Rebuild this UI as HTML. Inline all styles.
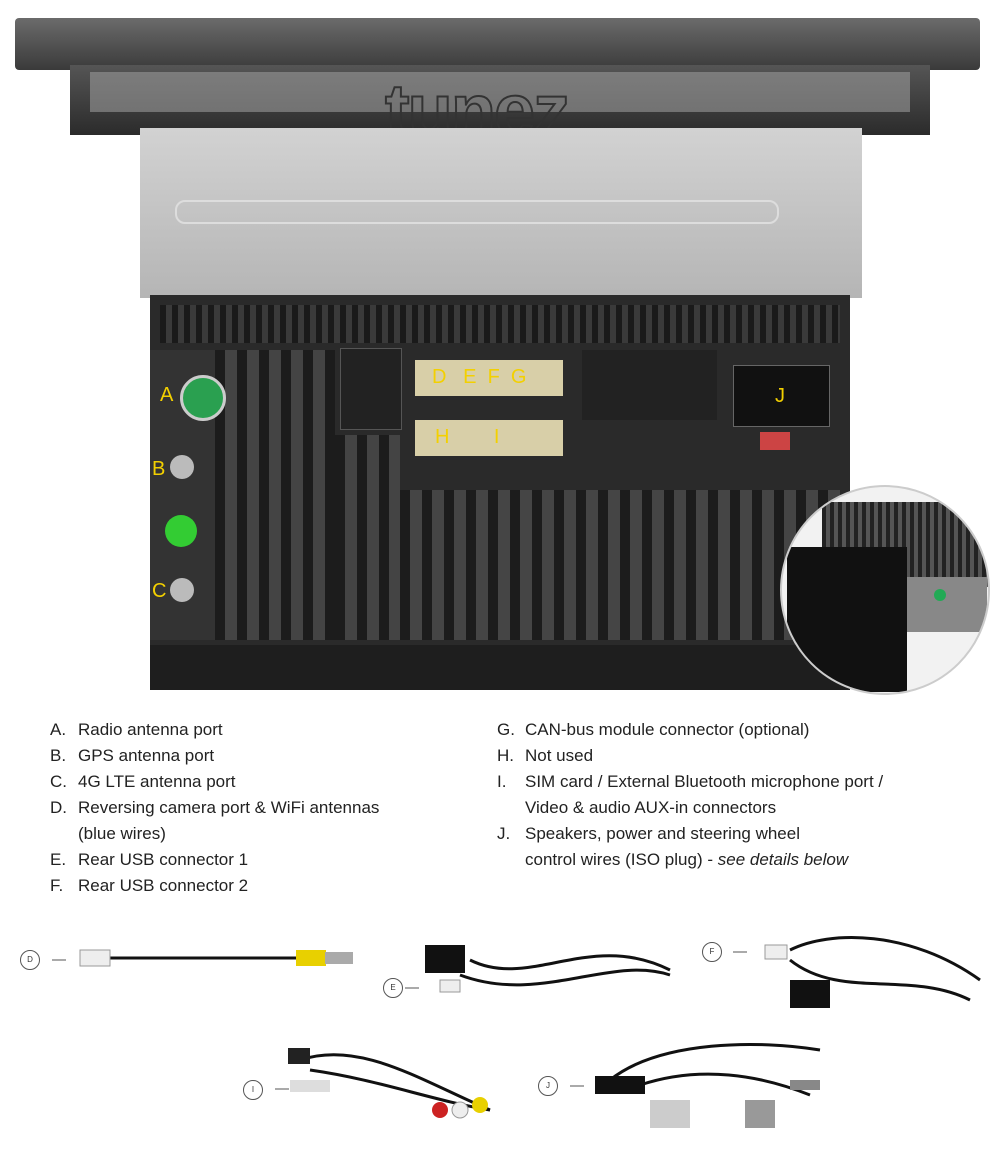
<!DOCTYPE html>
<html><head><meta charset="utf-8"><style>
body{margin:0;background:#fff;width:1000px;height:1149px;position:relative;overflow:hidden;font-family:"Liberation Sans",sans-serif}
.a{position:absolute}
.leg{font-size:17px;color:#222;line-height:26px}
.leg div{position:relative;padding-left:28px}
.leg b{font-weight:normal;position:absolute;left:0}
.lbl{position:absolute;color:#f3d000;font-size:20px}
.circ{position:absolute;width:18px;height:18px;border:1px solid #555;border-radius:50%;font-size:8px;text-align:center;line-height:18px;color:#333}
</style></head><body>
<div class="a" style="left:15px;top:18px;width:965px;height:52px;background:linear-gradient(#6b6b6b,#3a3a3a);border-radius:4px"></div>
<div class="a" style="left:70px;top:65px;width:860px;height:70px;background:linear-gradient(#555,#2b2b2b)"></div>
<div class="a" style="left:90px;top:72px;width:820px;height:40px;background:#999;opacity:.6"></div>
<div class="a" style="left:385px;top:68px;font-size:74px;font-weight:bold;color:transparent;letter-spacing:-2px;-webkit-text-stroke:2px #333">tunez</div>
<div class="a" style="left:140px;top:128px;width:722px;height:170px;background:linear-gradient(#d2d2d2,#b5b5b5)"></div>
<div class="a" style="left:175px;top:200px;width:600px;height:20px;border:2px solid #ddd;border-radius:10px"></div>
<div class="a" style="left:150px;top:295px;width:700px;height:395px;background:#2a2a2a"></div>
<div class="a" style="left:160px;top:305px;width:680px;height:38px;background:repeating-linear-gradient(90deg,#1a1a1a 0 6px,#3a3a3a 6px 12px)"></div>
<div class="a" style="left:215px;top:350px;width:120px;height:290px;background:repeating-linear-gradient(90deg,#1c1c1c 0 10px,#444 10px 22px)"></div>
<div class="a" style="left:335px;top:435px;width:65px;height:205px;background:repeating-linear-gradient(90deg,#1c1c1c 0 10px,#444 10px 22px)"></div>
<div class="a" style="left:400px;top:490px;width:440px;height:150px;background:repeating-linear-gradient(90deg,#1c1c1c 0 10px,#454545 10px 22px)"></div>
<div class="a" style="left:150px;top:645px;width:700px;height:45px;background:#1e1e1e"></div>
<div class="a" style="left:150px;top:350px;width:65px;height:290px;background:#333"></div>
<div class="a" style="left:180px;top:375px;width:40px;height:40px;border-radius:50%;background:#2aa050;border:3px solid #ccc"></div>
<div class="a" style="left:170px;top:455px;width:24px;height:24px;border-radius:50%;background:#bbb"></div>
<div class="a" style="left:165px;top:515px;width:32px;height:32px;border-radius:50%;background:#3c3"></div>
<div class="a" style="left:170px;top:578px;width:24px;height:24px;border-radius:50%;background:#bbb"></div>
<div class="lbl" style="left:160px;top:384px">A</div>
<div class="lbl" style="left:152px;top:458px">B</div>
<div class="lbl" style="left:152px;top:580px">C</div>
<div class="a" style="left:340px;top:348px;width:60px;height:80px;background:#222;border:1px solid #555"></div>
<div class="a" style="left:415px;top:360px;width:148px;height:36px;background:#d8cfa8"></div>
<div class="a" style="left:415px;top:420px;width:148px;height:36px;background:#d8cfa8"></div>
<div class="lbl" style="left:432px;top:366px">D&nbsp;&nbsp;&nbsp;E&nbsp;&nbsp;F&nbsp;&nbsp;G</div>
<div class="lbl" style="left:435px;top:426px">H&nbsp;&nbsp;&nbsp;&nbsp;&nbsp;&nbsp;&nbsp;&nbsp;I</div>
<div class="a" style="left:582px;top:350px;width:135px;height:70px;background:#222"></div>
<div class="a" style="left:733px;top:365px;width:95px;height:60px;background:#111;border:1px solid #666"></div>
<div class="lbl" style="left:775px;top:385px">J</div>
<div class="a" style="left:760px;top:432px;width:30px;height:18px;background:#c44"></div>
<div class="a" style="left:780px;top:485px;width:206px;height:206px;border-radius:50%;background:#f2f2f2;border:2px solid #ccc;overflow:hidden">
<div class="a" style="left:40px;top:15px;width:170px;height:85px;background:repeating-linear-gradient(90deg,#222 0 4px,#555 4px 8px)"></div>
<div class="a" style="left:5px;top:60px;width:120px;height:145px;background:#111"></div>
<div class="a" style="left:125px;top:90px;width:80px;height:55px;background:#888"></div>
<div class="a" style="left:152px;top:102px;width:12px;height:12px;border-radius:50%;background:#2a5"></div></div>
<div class="a leg" style="left:50px;top:717px">
<div><b>A.</b>Radio antenna port</div><div><b>B.</b>GPS antenna port</div><div><b>C.</b>4G LTE antenna port</div>
<div><b>D.</b>Reversing camera port &amp; WiFi antennas</div><div>(blue wires)</div>
<div><b>E.</b>Rear USB connector 1</div><div><b>F.</b>Rear USB connector 2</div></div>
<div class="a leg" style="left:497px;top:717px">
<div><b>G.</b>CAN-bus module connector (optional)</div><div><b>H.</b>Not used</div>
<div><b>I.</b>SIM card / External Bluetooth microphone port /</div><div>Video &amp; audio AUX-in connectors</div>
<div><b>J.</b>Speakers, power and steering wheel</div><div>control wires (ISO plug) - <i>see details below</i></div></div>
<div class="circ" style="left:20px;top:950px">D</div>
<div class="circ" style="left:383px;top:978px">E</div>
<div class="circ" style="left:702px;top:942px">F</div>
<div class="circ" style="left:243px;top:1080px">I</div>
<div class="circ" style="left:538px;top:1076px">J</div>
<svg class="a" style="left:0;top:900px" width="1000" height="249">
<g stroke="#111" stroke-width="3" fill="none">
<path d="M52 60h14M405 88h14M733 52h14M275 189h14M570 186h14" stroke="#555" stroke-width="1"/>
<path d="M110 58h190"/><path d="M470 60c60 30 120 -30 200 10"/><path d="M460 75c80 30 150 -20 210 0"/>
<path d="M790 50c40 -20 120 -20 190 30"/><path d="M790 60c50 40 120 10 180 40"/>
<path d="M300 160c60 -20 120 20 190 50"/><path d="M310 170c70 10 120 30 180 40"/>
<path d="M610 180c50 -40 150 -40 210 -30"/><path d="M640 185c60 -20 120 -10 170 10"/>
</g>
<rect x="80" y="50" width="30" height="16" fill="#eee" stroke="#999"/>
<rect x="296" y="50" width="30" height="16" fill="#e8d000"/><rect x="325" y="52" width="28" height="12" fill="#aaa"/>
<rect x="425" y="45" width="40" height="28" fill="#111"/><rect x="440" y="80" width="20" height="12" fill="#eee" stroke="#999"/>
<rect x="765" y="45" width="22" height="14" fill="#eee" stroke="#999"/><rect x="790" y="80" width="40" height="28" fill="#111"/>
<rect x="288" y="148" width="22" height="16" fill="#222"/><rect x="290" y="180" width="40" height="12" fill="#ddd"/>
<circle cx="440" cy="210" r="8" fill="#c22"/><circle cx="460" cy="210" r="8" fill="#eee" stroke="#999"/><circle cx="480" cy="205" r="8" fill="#e8d000"/>
<rect x="595" y="176" width="50" height="18" fill="#111"/><rect x="650" y="200" width="40" height="28" fill="#ccc"/>
<rect x="745" y="200" width="30" height="28" fill="#999"/><rect x="790" y="180" width="30" height="10" fill="#888"/>
</svg>
</body></html>
